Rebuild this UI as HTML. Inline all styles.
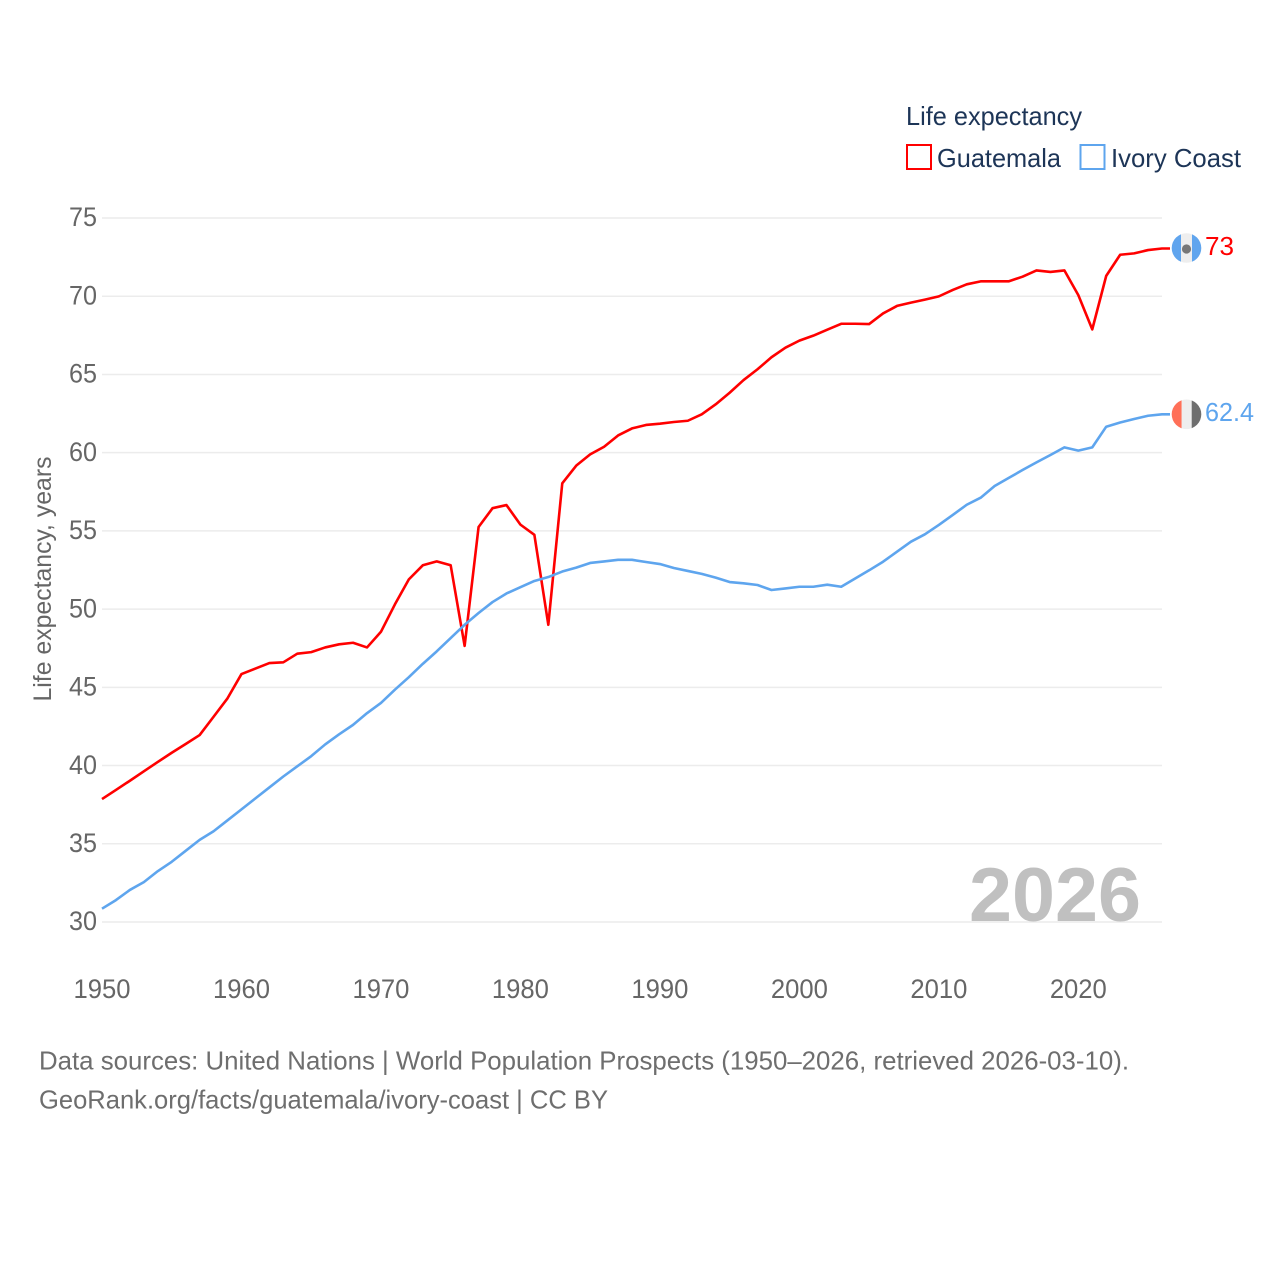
<!DOCTYPE html>
<html lang="en">
<head>
<meta charset="utf-8">
<title>Life expectancy: Guatemala vs Ivory Coast</title>
<style>
html,body{margin:0;padding:0;background:#fff;}
svg{display:block;font-family:"Liberation Sans",sans-serif;}
</style>
</head>
<body>
<svg id="chart" width="1280" height="1280" viewBox="0 0 1280 1280" xmlns="http://www.w3.org/2000/svg">
  <rect x="0" y="0" width="1280" height="1280" fill="#ffffff"/>
  <g id="grid"></g>
  <g id="yticks"></g>
  <g id="xticks"></g>
  <text transform="translate(51,579) rotate(-90)" text-anchor="middle" font-size="25" fill="#666666" textLength="245" lengthAdjust="spacingAndGlyphs">Life expectancy, years</text>
  <text x="969" y="921" font-size="76" font-weight="bold" fill="#c0c0c0" textLength="172" lengthAdjust="spacingAndGlyphs">2026</text>
  <g id="series"></g>

  <defs>
    <clipPath id="flag-clip-gt"><circle cx="1186.5" cy="248" r="14.8"/></clipPath>
    <clipPath id="flag-clip-ci"><circle cx="1186.5" cy="414.3" r="14.8"/></clipPath>
  </defs>
  <g clip-path="url(#flag-clip-gt)">
    <rect x="1171" y="233" width="10" height="31" fill="#60a5ee"/>
    <rect x="1181" y="233" width="11" height="31" fill="#eeeeee"/>
    <rect x="1192" y="233" width="10" height="31" fill="#60a5ee"/>
    <circle cx="1186.5" cy="249" r="4.6" fill="#777777"/>
  </g>
  <g clip-path="url(#flag-clip-ci)">
    <rect x="1171" y="399" width="10.7" height="31" fill="#ff7058"/>
    <rect x="1181.7" y="399" width="10" height="31" fill="#eeeeee"/>
    <rect x="1191.7" y="399" width="10" height="31" fill="#6e6e6e"/>
  </g>
  <text x="1205" y="255" font-size="26" fill="#ff0000" textLength="29" lengthAdjust="spacingAndGlyphs">73</text>
  <text x="1205" y="421" font-size="26" fill="#5ea5ee" textLength="49" lengthAdjust="spacingAndGlyphs">62.4</text>

  <g>
    <text x="906" y="125" font-size="26" fill="#1d3557" textLength="176" lengthAdjust="spacingAndGlyphs">Life expectancy</text>
    <rect x="907" y="145" width="24" height="24" fill="none" stroke="#ff0000" stroke-width="2"/>
    <text x="937" y="167" font-size="26" fill="#1d3557" textLength="124" lengthAdjust="spacingAndGlyphs">Guatemala</text>
    <rect x="1080.5" y="145" width="24" height="24" fill="none" stroke="#5ea5ee" stroke-width="2"/>
    <text x="1111" y="167" font-size="26" fill="#1d3557" textLength="130" lengthAdjust="spacingAndGlyphs">Ivory Coast</text>
  </g>

  <text x="39" y="1069.5" font-size="26" fill="#6e6e6e" textLength="1090" lengthAdjust="spacingAndGlyphs">Data sources: United Nations | World Population Prospects (1950–2026, retrieved 2026-03-10).</text>
  <text x="39" y="1108.5" font-size="26" fill="#6e6e6e" textLength="569" lengthAdjust="spacingAndGlyphs">GeoRank.org/facts/guatemala/ivory-coast | CC BY</text>
</svg>
<script>
const startYear = 1950;
const guatemala = [37.86,38.44,39.03,39.63,40.23,40.82,41.38,41.95,43.12,44.3,45.85,46.2,46.55,46.6,47.15,47.25,47.55,47.75,47.85,47.55,48.55,50.3,51.9,52.8,53.05,52.8,47.65,55.25,56.45,56.65,55.4,54.75,49,58.04,59.17,59.89,60.38,61.1,61.55,61.77,61.85,61.96,62.04,62.45,63.09,63.83,64.64,65.33,66.1,66.71,67.16,67.48,67.86,68.24,68.24,68.22,68.9,69.38,69.59,69.78,69.99,70.4,70.76,70.95,70.95,70.95,71.25,71.65,71.55,71.65,70.07,67.88,71.3,72.65,72.74,72.95,73.05];
const ivoryCoast = [30.85,31.4,32.05,32.55,33.25,33.85,34.55,35.25,35.8,36.5,37.2,37.9,38.6,39.3,39.95,40.6,41.35,42,42.6,43.35,44,44.85,45.65,46.5,47.3,48.15,49,49.75,50.45,51,51.4,51.8,52.05,52.4,52.65,52.95,53.05,53.15,53.15,53.01,52.88,52.63,52.44,52.25,52.01,51.73,51.65,51.54,51.22,51.32,51.43,51.43,51.56,51.43,51.96,52.48,53.03,53.67,54.31,54.78,55.38,56.02,56.67,57.12,57.87,58.38,58.89,59.38,59.85,60.34,60.13,60.34,61.66,61.93,62.15,62.36,62.45];
const yTickLabels = [30,35,40,45,50,55,60,65,70,75];
const xTickLabels = [1950,1960,1970,1980,1990,2000,2010,2020];

const NS = 'http://www.w3.org/2000/svg';
function xScale(year) { return 102 + (year - 1950) * (1162 - 102) / 76; }
function yScale(v) { return 922 - (v - 30) * (922 - 218) / 45; }

const grid = document.getElementById('grid');
const yticks = document.getElementById('yticks');
const xticks = document.getElementById('xticks');
const series = document.getElementById('series');

yTickLabels.forEach(function (t) {
  const line = document.createElementNS(NS, 'line');
  
  
  line.setAttribute('x1', 102);
  line.setAttribute('x2', 1162);
  line.setAttribute('y1', yScale(t));
  line.setAttribute('y2', yScale(t));
  line.setAttribute('stroke', '#ececec');
  line.setAttribute('stroke-width', '1.5');
  grid.appendChild(line);

  const label = document.createElementNS(NS, 'text');
  
  
  label.setAttribute('x', 97);
  label.setAttribute('y', yScale(t) + 8.2);
  label.setAttribute('text-anchor', 'end');
  label.setAttribute('font-size', '26.5');
  label.setAttribute('fill', '#666666');
  label.setAttribute('textLength', '28');
  label.setAttribute('lengthAdjust', 'spacingAndGlyphs');
  label.textContent = t;
  yticks.appendChild(label);
});

xTickLabels.forEach(function (t) {
  const label = document.createElementNS(NS, 'text');
  
  
  label.setAttribute('x', xScale(t));
  label.setAttribute('y', 998);
  label.setAttribute('text-anchor', 'middle');
  label.setAttribute('font-size', '26.5');
  label.setAttribute('fill', '#666666');
  label.setAttribute('textLength', '57');
  label.setAttribute('lengthAdjust', 'spacingAndGlyphs');
  label.textContent = t;
  xticks.appendChild(label);
});

function pointsFor(values) {
  const pts = values.map(function (v, i) {
    return xScale(startYear + i).toFixed(2) + ',' + yScale(v).toFixed(2);
  });
  pts.push('1170,' + yScale(values[values.length - 1]).toFixed(2));
  return pts.join(' ');
}

const guatemalaLine = document.createElementNS(NS, 'polyline');


guatemalaLine.setAttribute('points', pointsFor(guatemala));
guatemalaLine.setAttribute('fill', 'none');
guatemalaLine.setAttribute('stroke', '#ff0000');
guatemalaLine.setAttribute('stroke-width', '2.6');
guatemalaLine.setAttribute('stroke-linejoin', 'round');
series.appendChild(guatemalaLine);

const ivoryLine = document.createElementNS(NS, 'polyline');


ivoryLine.setAttribute('points', pointsFor(ivoryCoast));
ivoryLine.setAttribute('fill', 'none');
ivoryLine.setAttribute('stroke', '#5ea5ee');
ivoryLine.setAttribute('stroke-width', '2.6');
ivoryLine.setAttribute('stroke-linejoin', 'round');
series.appendChild(ivoryLine);
</script>
</body>
</html>
